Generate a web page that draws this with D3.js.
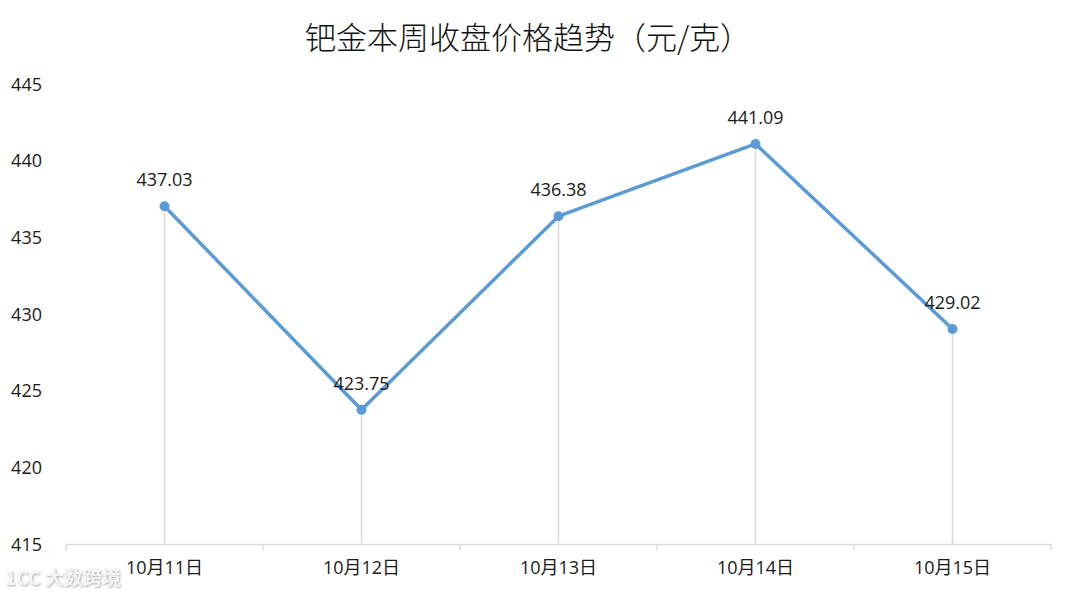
<!DOCTYPE html>
<html><head><meta charset="utf-8">
<script src="https://cdn.jsdelivr.net/npm/d3@7"></script>
<style>body{margin:0;background:#fff}svg{display:block}</style>
</head><body><svg id="c" width="1073" height="597"></svg>
<script>
const categories = ["10月11日","10月12日","10月13日","10月14日","10月15日"];
const values = [437.03, 423.75, 436.38, 441.09, 429.02];
const yTicks = [415, 420, 425, 430, 435, 440, 445];
const title = "钯金本周收盘价格趋势（元/克）";

const svg = d3.select("#c");
const W = 1073, H = 597;
const m = {l:66, r:22, t:84, b:53};
const x = d3.scaleBand().domain(categories).range([m.l, W - m.r]);
const y = d3.scaleLinear().domain([415, 445]).range([H - m.b, m.t]);
const font = "'Open Sans','Noto Sans CJK SC',sans-serif";

const defs = svg.append("defs");
const f = defs.append("filter").attr("id","sh").attr("x","-10%").attr("y","-30%").attr("width","130%").attr("height","160%");
f.append("feDropShadow").attr("dx",1).attr("dy",1).attr("stdDeviation",1.2).attr("flood-color","#999").attr("flood-opacity",0.8);

svg.append("text").attr("x", 528).attr("y", 49).attr("text-anchor","middle")
  .attr("font-family","'Noto Sans CJK SC',sans-serif").attr("font-size",31).attr("font-weight",300)
  .attr("fill","#111").text(title);

// y tick labels (no axis line)
const ya = svg.append("g").attr("transform",`translate(${m.l-24},0)`)
  .call(d3.axisLeft(y).tickValues(yTicks).tickSize(0).tickPadding(0));
ya.select(".domain").remove();
ya.selectAll("text").attr("font-family",font).attr("font-size",18).attr("fill","#1a1a1a").attr("dy","0.35em");

// drop lines
svg.append("g").selectAll("line").data(values).join("line")
  .attr("x1",(d,i)=>x(categories[i])+x.bandwidth()/2).attr("x2",(d,i)=>x(categories[i])+x.bandwidth()/2)
  .attr("y1",d=>y(d)).attr("y2",y(415)).attr("stroke","#d9d9d9").attr("stroke-width",1.5);

// watermark
svg.append("text").attr("x",5).attr("y",585).attr("font-family","'Noto Sans CJK SC',sans-serif")
  .attr("font-size",19).attr("font-weight",700).attr("fill","#f4f4f4").attr("filter","url(#sh)")
  .text("1CC 大数跨境");

// x axis
const xa = svg.append("g").attr("transform",`translate(0,${y(415)})`)
  .call(d3.axisBottom(x).tickSize(0).tickPadding(17));
xa.select(".domain").attr("stroke","#d9d9d9").attr("stroke-width",1.5);
xa.selectAll("text").attr("font-family",font).attr("font-size",18).attr("fill","#1a1a1a");
const bounds = categories.map(c=>x(c)).concat([x(categories[categories.length-1])+x.bandwidth()]);
xa.append("g").selectAll("line").data(bounds).join("line")
  .attr("x1",d=>d).attr("x2",d=>d).attr("y1",0).attr("y2",6).attr("stroke","#d9d9d9").attr("stroke-width",1.5);

// line
const line = d3.line().x((d,i)=>x(categories[i])+x.bandwidth()/2).y(d=>y(d));
svg.append("path").datum(values).attr("d",line).attr("fill","none")
  .attr("stroke","#5b9bd5").attr("stroke-width",3.5).attr("stroke-linejoin","round");
svg.append("g").selectAll("circle").data(values).join("circle")
  .attr("cx",(d,i)=>x(categories[i])+x.bandwidth()/2).attr("cy",d=>y(d)).attr("r",5).attr("fill","#5b9bd5");
svg.append("g").selectAll("text").data(values).join("text")
  .attr("x",(d,i)=>x(categories[i])+x.bandwidth()/2).attr("y",d=>y(d)-20).attr("text-anchor","middle")
  .attr("font-family",font).attr("font-size",18).attr("fill","#1a1a1a").text(d=>d.toFixed(2));
</script></body></html>
